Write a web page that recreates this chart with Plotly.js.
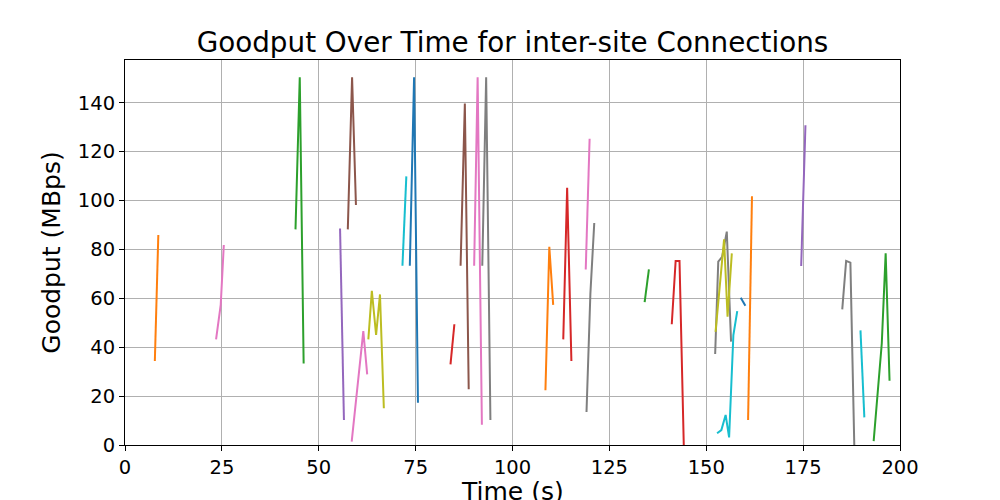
<!DOCTYPE html>
<html>
<head>
<meta charset="utf-8">
<script src="https://cdn.plot.ly/plotly-3.0.1.min.js"></script>
<style>
  html, body { margin: 0; padding: 0; background: #fff; }
  #chart { width: 1000px; height: 500px; }
</style>
</head>
<body>
<div id="chart"></div>
<script>
// ── Per-connection samples: time (s) and goodput (MBps) ────────────────────
const t01 = [7.7, 8.6];                              const g01 = [34.4, 85.9];
const t02 = [23.5, 24.7, 25.5];                      const g02 = [43.2, 57.3, 81.8];
const t03 = [44.0, 45.1, 46.1];                      const g03 = [88.2, 150.4, 33.3];
const t04 = [55.5, 56.5];                            const g04 = [88.6, 10.2];
const t05 = [57.5, 58.6, 59.6];                      const g05 = [88.2, 150.4, 98.2];
const t06 = [58.5, 59.5, 60.5, 61.5, 62.5];          const g06 = [1.4, 16, 32, 46.6, 28.9];
const t07 = [62.8, 63.7, 64.8, 65.8, 66.8];          const g07 = [43.2, 63.1, 45.0, 61.6, 15.0];
const t08 = [71.6, 72.6];                            const g08 = [73.3, 109.9];
const t09 = [73.5, 74.6, 75.6];                      const g09 = [73.3, 150.4, 17.3];
const t10 = [84.0, 85.0];                            const g10 = [33.0, 49.4];
const t11 = [86.6, 87.7, 88.7];                      const g11 = [73.3, 139.7, 22.8];
const t12 = [90.1, 91.0, 92.1];                      const g12 = [73.3, 150.4, 8.3];
const t13 = [92.2, 93.2, 94.3];                      const g13 = [73.3, 150.4, 10.2];
const t14 = [108.5, 109.5, 110.5];                   const g14 = [22.4, 81.1, 57.3];
const t15 = [113.1, 114.1, 115.2];                   const g15 = [43.2, 105.2, 34.4];
const t16 = [118.9, 119.9];                          const g16 = [71.8, 125.3];
const t17 = [119.1, 120.1, 121.1];                   const g17 = [13.5, 62.0, 90.8];
const t18 = [134.1, 135.2];                          const g18 = [58.4, 71.8];
const t19 = [141.1, 142.1, 143.1, 144.2];            const g19 = [49.4, 75.3, 75.3, 0];
const t20 = [152.3, 153.1, 154.1, 155.3, 156.4];     const g20 = [37.2, 75.0, 77.0, 87.3, 42.3];
const t21 = [152.4, 153.5, 154.6, 155.5, 156.6];     const g21 = [46.3, 65, 84.1, 52.5, 78.4];
const t22 = [152.8, 153.9, 155.0, 155.9, 157.0, 158.0]; const g22 = [4.8, 6.1, 12.3, 3.1, 45.0, 54.8];
const t23 = [158.9, 160.1];                          const g23 = [60.2, 57.0];
const t24 = [160.8, 161.8];                          const g24 = [10.2, 101.8];
const t25 = [174.5, 175.6];                          const g25 = [73.2, 130.8];
const t26 = [185.1, 186.1, 187.2, 188.2];            const g26 = [55.5, 75.3, 74.6, 0];
const t27 = [189.8, 190.8];                          const g27 = [46.9, 11.3];
const t28 = [193.2, 194.2, 195.3, 196.3, 197.3];     const g28 = [1.6, 21.6, 41.6, 78.4, 26.3];

// matplotlib tab10 colour name for each connection
const connColors = [
  'orange', 'pink', 'green', 'purple', 'brown', 'pink', 'olive',
  'cyan', 'blue', 'red', 'brown', 'pink', 'gray', 'orange',
  'red', 'pink', 'gray', 'green', 'red', 'gray', 'olive',
  'cyan', 'blue', 'orange', 'purple', 'gray', 'cyan', 'green'
];

const xTicks = [0, 25, 50, 75, 100, 125, 150, 175, 200];
const yTicks = [0, 20, 40, 60, 80, 100, 120, 140];

const TAB10 = {
  blue: '#1f77b4', orange: '#ff7f0e', green: '#2ca02c', red: '#d62728',
  purple: '#9467bd', brown: '#8c564b', pink: '#e377c2', gray: '#7f7f7f',
  olive: '#bcbd22', cyan: '#17becf'
};

const times = [t01,t02,t03,t04,t05,t06,t07,t08,t09,t10,t11,t12,t13,t14,
               t15,t16,t17,t18,t19,t20,t21,t22,t23,t24,t25,t26,t27,t28];
const goodput = [g01,g02,g03,g04,g05,g06,g07,g08,g09,g10,g11,g12,g13,g14,
                 g15,g16,g17,g18,g19,g20,g21,g22,g23,g24,g25,g26,g27,g28];

const traces = times.map((t, i) => ({
  type: 'scatter', mode: 'lines',
  x: t, y: goodput[i],
  line: { width: 2, color: TAB10[connColors[i]] },
  hoverinfo: 'none', showlegend: false
}));

const FONT = 'DejaVu Sans, sans-serif';
const axisBase = {
  showline: true, mirror: true, linecolor: '#000', linewidth: 1,
  showgrid: true, gridcolor: '#b0b0b0', gridwidth: 1,
  zeroline: false, ticks: 'outside', ticklen: 5, tickcolor: '#000', tickwidth: 1,
  tickfont: { family: FONT, size: 19.5, color: '#000' }
};

const layout = {
  width: 1000, height: 500,
  margin: { l: 125, r: 100, t: 60, b: 55 },
  paper_bgcolor: '#fff', plot_bgcolor: '#fff',
  title: {
    text: 'Goodput Over Time for inter-site Connections',
    font: { family: FONT, size: 27.8, color: '#000' },
    x: 0.5125, xanchor: 'center', y: 0.915, yanchor: 'middle'
  },
  xaxis: Object.assign({}, axisBase, {
    range: [0, 200], tickvals: xTicks, ticktext: xTicks.map(String)
  }),
  yaxis: Object.assign({}, axisBase, {
    range: [0, 157.5], tickvals: yTicks, ticktext: yTicks.map(String),
    title: { text: 'Goodput (MBps)', font: { family: FONT, size: 25, color: '#000' }, standoff: 10 }
  }),
  // x-axis title as an annotation so it can sit below the fixed bottom margin edge
  annotations: [{
    text: 'Time (s)', xref: 'paper', yref: 'paper', x: 0.5, y: 0,
    xanchor: 'center', yanchor: 'top', yshift: -30, showarrow: false,
    font: { family: FONT, size: 25, color: '#000' }
  }]
};

Plotly.newPlot('chart', traces, layout, { displayModeBar: false, staticPlot: true });
</script>
</body>
</html>
